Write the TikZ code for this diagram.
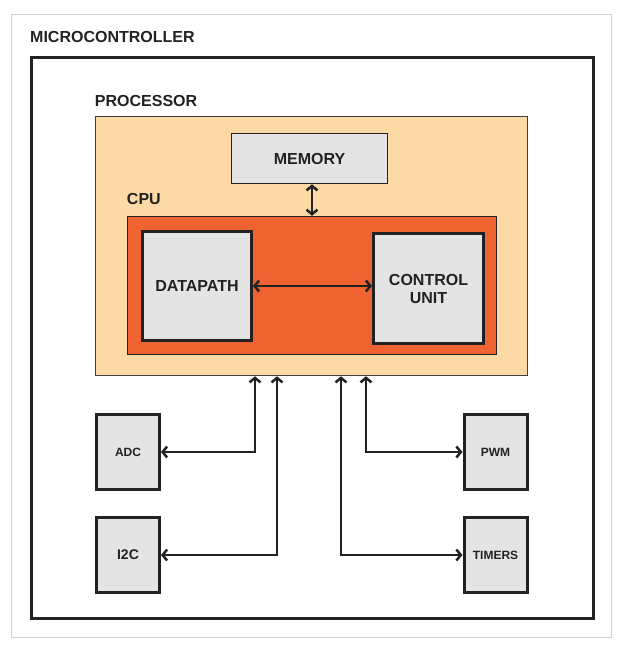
\documentclass[tikz,border=0pt]{standalone}
\usepackage{fontspec}
\setmainfont{Liberation Sans}
\usetikzlibrary{arrows.meta}
\definecolor{peach}{HTML}{FDD9A6}
\definecolor{cpuorange}{HTML}{EE6330}
\definecolor{boxgray}{HTML}{E4E4E4}
\definecolor{inkdark}{HTML}{222222}
\tikzstyle{heading} = [font=\fontsize{16}{18}\selectfont\bfseries, text=inkdark, inner sep=0pt, anchor=base west]
\tikzstyle{unit} = [rectangle, draw=inkdark, fill=boxgray, line width=3pt, inner sep=0pt, align=center, text=inkdark, font=\fontsize{16}{18}\selectfont\bfseries]
\tikzstyle{periph} = [unit, minimum width=63pt, minimum height=75pt, font=\fontsize{12}{14}\selectfont\bfseries]
\tikzstyle{bus} = [line width=2.5pt, draw=inkdark, {Straight Barb[length=4.5pt,width=11pt]}-{Straight Barb[length=4.5pt,width=11pt]}]

\begin{document}
\begin{tikzpicture}[x=1pt, y=-1pt]
                \useasboundingbox (0, 0) rectangle (624, 649);
                % outer frame and microcontroller
                \node (frame) at (311, 325.5) [draw=black!18, line width=1pt, minimum width=600pt, minimum height=623pt] {};
                \node (mcu) at (312.5, 338) [draw=inkdark, line width=3pt, minimum width=562pt, minimum height=561pt] {};
                \node [heading] (mcutitle) at ([yshift=14pt]mcu.north west) {MICROCONTROLLER};
                % processor
                \node (proc) at (311.5, 246) [draw=black!75, fill=peach, line width=1.5pt, minimum width=432pt, minimum height=259pt] {};
                \node [heading] (proctitle) at ([yshift=9pt]proc.north west) {PROCESSOR};
                \node [unit, line width=1.5pt, minimum width=156pt, minimum height=50pt] (mem) at (309.5, 158.5) {MEMORY};
                % cpu
                \node (cpu) at (312, 285.5) [draw=inkdark, fill=cpuorange, line width=1.5pt, minimum width=369pt, minimum height=138pt] {};
                \node [heading] (cputitle) at ([yshift=11pt]cpu.north west) {CPU};
                \node [unit, minimum width=109pt, minimum height=109pt] (dp) at (197, 286) {DATAPATH};
                \node [unit, minimum width=110pt, minimum height=110pt] (cu) at (428.5, 288.5) {CONTROL\\UNIT};
                % peripherals
                \node [periph] (adc) at (128, 452) {ADC};
                \node [periph, font=\fontsize{14}{16}\selectfont\bfseries] (i2c) at (128, 555) {I2C};
                \node [periph] (pwm) at (495.5, 452) {PWM};
                \node [periph] (timers) at (495.5, 555) {TIMERS};
                % buses
                \draw [bus] (mem.south -| cpu.north) -- (cpu.north);
                \draw [bus] (dp.east) -- (dp.east -| cu.west);
                \draw [bus] (adc.east) -| ([xshift=-56.5pt]proc.south);
                \draw [bus] (i2c.east) -| ([xshift=-34.5pt]proc.south);
                \draw [bus] (timers.west) -| ([xshift=29.5pt]proc.south);
                \draw [bus] (pwm.west) -| ([xshift=54.5pt]proc.south);
            \end{tikzpicture}
\end{document}
